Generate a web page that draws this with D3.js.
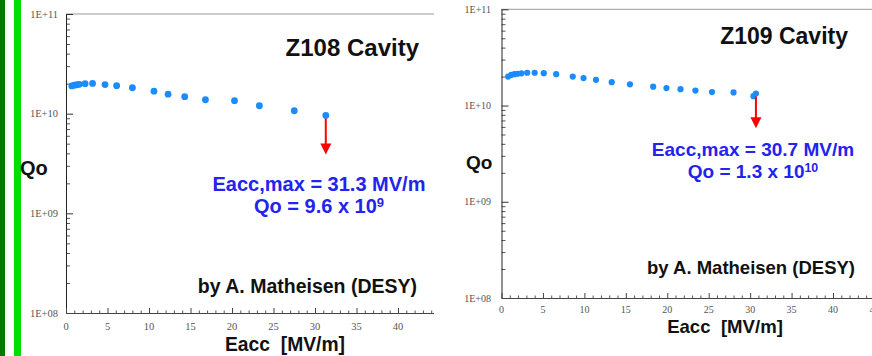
<!DOCTYPE html>
<html><head><meta charset="utf-8">
<script src="https://cdn.jsdelivr.net/npm/d3@7"></script>
<style>
html,body{margin:0;padding:0;background:#fff;}
svg{display:block;}
text{font-family:"Liberation Sans",Arial,sans-serif;}
text.tick-label{font-family:"Liberation Serif","Times New Roman",serif;fill:#555;}
</style></head>
<body>
<svg id="chart" width="872" height="356"></svg>
<script>
// ---------- DATA ----------
const z108Eacc = [0.7, 1.0, 1.3, 1.6, 2.3, 3.2, 4.7, 6.1, 8.0, 10.6, 12.3, 14.3, 16.8, 20.3, 23.3, 27.5, 31.3];
const z108Qo   = [1.90e10, 1.93e10, 1.95e10, 1.97e10, 2.00e10, 2.01e10, 1.96e10, 1.91e10, 1.82e10, 1.68e10, 1.57e10, 1.48e10, 1.38e10, 1.35e10, 1.20e10, 1.07e10, 0.96e10];
const z109Eacc = [0.8, 1.16, 1.57, 1.93, 2.4, 3.1, 4.0, 5.1, 6.6, 8.6, 9.9, 11.4, 13.3, 15.5, 18.3, 19.9, 21.6, 23.4, 25.4, 28.0, 30.4, 30.7];
const z109Qo   = [2.00e10, 2.08e10, 2.12e10, 2.14e10, 2.16e10, 2.19e10, 2.19e10, 2.17e10, 2.12e10, 2.00e10, 1.93e10, 1.85e10, 1.75e10, 1.66e10, 1.57e10, 1.52e10, 1.48e10, 1.43e10, 1.38e10, 1.37e10, 1.25e10, 1.33e10];
const titles = ["Z108 Cavity", "Z109 Cavity"];
const maxEaccText = ["Eacc,max = 31.3 MV/m", "Eacc,max = 30.7 MV/m"];
const qoMantissa = ["Qo = 9.6 x 10", "Qo = 1.3 x 10"];
const qoExponent = ["9", "10"];
const arrowFrom = [[31.3, 0.96e10], [30.7, 1.33e10]];
const arrowTo = [[31.3, 3.9e9], [30.7, 5.8e9]];
const yTickValues = [1e8, 1e9, 1e10, 1e11];
const yTickLabels = ["1E+08", "1E+09", "1E+10", "1E+11"];
const xTickValues = [0, 5, 10, 15, 20, 25, 30, 35, 40, 45];
const xTickLabels = ["0", "5", "10", "15", "20", "25", "30", "35", "40", "45"];
const credit = "by A. Matheisen (DESY)";
const xTitle = "Eacc  [MV/m]";
const yTitle = "Qo";

// ---------- LAYOUT ----------
const svg = d3.select("#chart");
// green decorative bars at left
svg.append("rect").attr("x",0).attr("y",0).attr("width",5).attr("height",356).attr("fill","#007a00");
svg.append("rect").attr("x",14).attr("y",0).attr("width",7).attr("height",356).attr("fill","#00e000");

const panels = [
  {x0:66, x40:398, xEnd:434, labSlack:0, yTop:14, yBot:313, ylabX:58, ylabFs:10.5, xlabDy:17, xlabFs:10.5,
   Eacc:z108Eacc, Qo:z108Qo, r:3.4,
   title:{x:419, y:56, fs:24}, qo:{x:20, y:175, fs:20},
   blue:{cx:319, y1:191, y2:213, fs:20}, credit:{x:417, y:293, fs:19.5},
   xt:{x:285, y:351, fs:19.3}},
  {x0:501.5, x40:833, xEnd:872, labSlack:6, yTop:9.3, yBot:298, ylabX:491, ylabFs:10, xlabDy:15, xlabFs:10,
   Eacc:z109Eacc, Qo:z109Qo, r:3.1,
   title:{x:848, y:44, fs:23}, qo:{x:466, y:169, fs:19},
   blue:{cx:753, y1:156, y2:178, fs:19}, credit:{x:855, y:274, fs:18.5},
   xt:{x:725, y:333, fs:18.6}}
];

panels.forEach((p, i) => {
  const g = svg.append("g");
  const x = d3.scaleLinear().domain([0, 40]).range([p.x0, p.x40]);
  const xMax = x.invert(p.xEnd);
  const y = d3.scaleLog().domain([1e8, 1e11]).range([p.yBot, p.yTop]);

  // top frame line
  g.append("line").attr("x1", p.x0).attr("x2", p.xEnd).attr("y1", p.yTop).attr("y2", p.yTop)
    .attr("stroke", "#999").attr("stroke-width", 1);

  // y axis (ticks pointing inside)
  const yMinor = [];
  for (let d = 8; d < 11; d++) for (let m = 2; m <= 9; m++) yMinor.push(m * Math.pow(10, d));
  g.append("g").attr("transform", `translate(${p.x0},0)`)
    .call(d3.axisRight(y).tickValues(yMinor).tickSize(4).tickFormat(""))
    .call(s => s.select(".domain").remove())
    .selectAll("line").attr("stroke", "#555");
  const yAx = g.append("g").attr("transform", `translate(${p.x0},0)`)
    .call(d3.axisRight(y).tickValues(yTickValues).tickSize(7).tickFormat(""));
  yAx.select(".domain").attr("stroke", "#222").attr("d", `M0.5,${p.yTop}V${p.yBot}`);
  yAx.selectAll("line").attr("stroke", "#333");
  g.selectAll(".ylab").data(yTickValues).enter().append("text")
    .attr("class", "tick-label").attr("x", p.ylabX).attr("y", d => y(d) + 3.5)
    .attr("text-anchor", "end").attr("font-size", p.ylabFs)
    .text((d, k) => yTickLabels[k]);

  // x axis (ticks pointing up)
  const xMinor = d3.range(0, Math.floor(xMax) + 1).filter(v => v % 5 !== 0);
  g.append("g").attr("transform", `translate(0,${p.yBot})`)
    .call(d3.axisTop(x).tickValues(xMinor).tickSize(2.5).tickFormat(""))
    .call(s => s.select(".domain").remove())
    .selectAll("line").attr("stroke", "#555");
  const xAx = g.append("g").attr("transform", `translate(0,${p.yBot})`)
    .call(d3.axisTop(x).tickValues(xTickValues.filter(v => v <= xMax)).tickSize(5).tickFormat(""));
  xAx.select(".domain").attr("stroke", "#444").attr("d", `M${p.x0},0.5H${p.xEnd}`);
  xAx.selectAll("line").attr("stroke", "#444");
  g.selectAll(".xlab").data(xTickValues.map((v, k) => [v, xTickLabels[k]]).filter(d => x(d[0]) <= p.xEnd + p.labSlack))
    .enter().append("text")
    .attr("class", "tick-label").attr("x", d => x(d[0])).attr("y", p.yBot + p.xlabDy)
    .attr("text-anchor", "middle").attr("font-size", p.xlabFs)
    .text(d => d[1]);

  // data points
  g.selectAll("circle").data(p.Eacc.map((e, k) => [e, p.Qo[k]])).enter().append("circle")
    .attr("cx", d => x(d[0])).attr("cy", d => y(d[1])).attr("r", p.r).attr("fill", "#1a8cff");

  // red arrow
  const ax = x(arrowFrom[i][0]), ay1 = y(arrowFrom[i][1]) + 3, ay2 = y(arrowTo[i][1]);
  g.append("line").attr("x1", ax).attr("x2", ax).attr("y1", ay1).attr("y2", ay2 - 10)
    .attr("stroke", "#ff0000").attr("stroke-width", 2);
  g.append("path").attr("d", `M${ax-5.5},${ay2-11}L${ax+5.5},${ay2-11}L${ax},${ay2}Z`).attr("fill", "#ff0000");

  // texts
  g.append("text").attr("x", p.title.x).attr("y", p.title.y).attr("text-anchor", "end")
    .attr("font-size", p.title.fs).attr("font-weight", "bold").attr("fill", "#111").text(titles[i]);
  g.append("text").attr("x", p.qo.x).attr("y", p.qo.y)
    .attr("font-size", p.qo.fs).attr("font-weight", "bold").attr("fill", "#111").text(yTitle);
  g.append("text").attr("x", p.blue.cx).attr("y", p.blue.y1).attr("text-anchor", "middle")
    .attr("font-size", p.blue.fs).attr("font-weight", "bold").attr("fill", "#2323f0").text(maxEaccText[i]);
  const t2 = g.append("text").attr("x", p.blue.cx).attr("y", p.blue.y2).attr("text-anchor", "middle")
    .attr("font-size", p.blue.fs).attr("font-weight", "bold").attr("fill", "#2323f0");
  t2.append("tspan").text(qoMantissa[i]);
  t2.append("tspan").attr("dy", -6).attr("font-size", p.blue.fs * 0.65).text(qoExponent[i]);
  g.append("text").attr("x", p.credit.x).attr("y", p.credit.y).attr("text-anchor", "end")
    .attr("font-size", p.credit.fs).attr("font-weight", "bold").attr("fill", "#111").text(credit);
  g.append("text").attr("x", p.xt.x).attr("y", p.xt.y).attr("text-anchor", "middle")
    .attr("font-size", p.xt.fs).attr("font-weight", "bold").attr("fill", "#111")
    .style("white-space", "pre").text(xTitle);
});
</script>
</body></html>
